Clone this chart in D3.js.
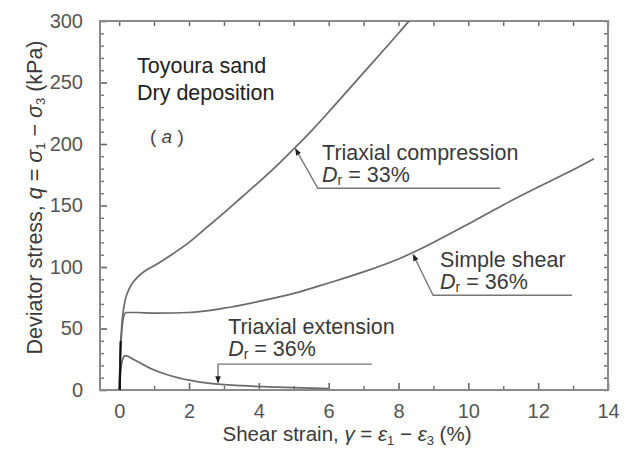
<!DOCTYPE html>
<html>
<head>
<meta charset="utf-8">
<script src="https://cdn.jsdelivr.net/npm/d3@7"></script>
<style>
  html, body { margin: 0; padding: 0; background: #fff; }
  svg { display: block; }
  text { font-family: "Liberation Sans", Arial, sans-serif; }
</style>
</head>
<body>
<svg id="chart" width="637" height="449"></svg>
<script>
// ---- data ----
const xDomain = [-0.55, 14];
const yDomain = [0, 300];
const xTickLabels = [0, 2, 4, 6, 8, 10, 12, 14];
const yTickLabels = [0, 50, 100, 150, 200, 250, 300];

// Triaxial compression, Dr = 33%
const compression = [
  [0, 0], [0.03, 30], [0.08, 55], [0.15, 70], [0.3, 83], [0.5, 91], [0.75, 97], [1, 101],
  [1.5, 110], [2, 120], [2.5, 132], [3, 144], [3.5, 156.5], [4, 169], [4.5, 182],
  [5, 196], [5.5, 210.5], [6, 226], [6.5, 242], [7, 258], [7.5, 274], [8, 290], [8.3, 300]
];
// Simple shear, Dr = 36%
const simpleShear = [
  [0, 0], [0.03, 28], [0.08, 50], [0.13, 60], [0.2, 63], [0.5, 63], [1, 62.5],
  [2, 63], [3, 66.5], [4, 72], [5, 78.5], [6, 87], [7, 96], [8, 106.5], [9, 120],
  [10, 135], [11, 150.5], [12, 165], [13, 179], [13.6, 188]
];
// Triaxial extension, Dr = 36%
const extension = [
  [0, 0], [0.04, 15], [0.1, 25], [0.17, 28], [0.4, 25], [0.9, 17.5], [1.4, 12.2],
  [2, 8], [2.6, 5.4], [3.5, 3.5], [4.5, 2.3], [5.5, 1.5], [6, 1.2]
];

const seriesNames = ["Triaxial compression", "Simple shear", "Triaxial extension"];
const seriesDr = ["33%", "36%", "36%"];
// annotation anchors in data units
const leaderTips   = [[5.05, 196], [8.42, 110], [2.83, 6]];
const leaderElbows = [[5.69, 164], [8.99, 77], [2.83, 21]];
const leaderEnds   = [[10.91, 164], [12.97, 77], [7.24, 21]];
const labelX       = [5.81, 9.19, 3.12];
const labelY1      = [187, 100, 45.5];
const labelY2      = [169.1, 82.1, 27.6];

// ---- layout ----
const svg = d3.select("#chart");
const margin = { left: 100, right: 29, top: 21, bottom: 59 };
const W = 637, H = 449;
const x = d3.scaleLinear().domain(xDomain).range([margin.left, W - margin.right]);
const y = d3.scaleLinear().domain(yDomain).range([H - margin.bottom, margin.top]);

const axisColor = "#8a8a8a";
const lineColor = "#6a6a6a";
const textColor = "#3a3a3a";
const tickTextColor = "#555";
const FONT = "Liberation Sans, Arial, sans-serif";
const LABEL_SIZE = 21.5;

svg.append("defs").append("marker")
  .attr("id", "arrow").attr("viewBox", "0 0 10 10")
  .attr("refX", 9).attr("refY", 5)
  .attr("markerWidth", 7).attr("markerHeight", 7)
  .attr("markerUnits", "userSpaceOnUse")
  .attr("orient", "auto")
  .append("path").attr("d", "M0,1 L10,5 L0,9 Z").attr("fill", "#222");

const g = svg.append("g");
const xMinor = d3.range(0, 15, 1);
const yMinor = d3.range(0, 301, 10);

// bottom
const bottom = g.append("g").attr("transform", `translate(0,${y(0)})`)
  .call(d3.axisBottom(x).tickValues(xTickLabels).tickSize(-7).tickFormat(d3.format("d")).tickPadding(14));
bottom.select(".domain").remove();
bottom.selectAll(".tick line").attr("stroke", "#666").attr("stroke-width", 1.6);
bottom.selectAll(".tick text").attr("fill", tickTextColor).attr("font-size", 20).attr("font-family", FONT);
g.append("g").attr("transform", `translate(0,${y(0)})`)
  .call(d3.axisBottom(x).tickValues(xMinor.filter(d => d % 2)).tickSize(-4).tickFormat(""))
  .call(a => a.select(".domain").remove())
  .selectAll(".tick line").attr("stroke", "#666").attr("stroke-width", 1.4);

// top
g.append("g").attr("transform", `translate(0,${y(300)})`)
  .call(d3.axisTop(x).tickValues(xMinor).tickSize(-5).tickFormat(""))
  .call(a => a.select(".domain").remove())
  .selectAll(".tick line").attr("stroke", "#666").attr("stroke-width", 1.4);

// left
const left = g.append("g").attr("transform", `translate(${x(xDomain[0])},0)`)
  .call(d3.axisLeft(y).tickValues(yTickLabels).tickSize(-7).tickPadding(17).tickFormat(d3.format("d")));
left.select(".domain").remove();
left.selectAll(".tick line").attr("stroke", "#666").attr("stroke-width", 1.6);
left.selectAll(".tick text").attr("fill", tickTextColor).attr("font-size", 20).attr("font-family", FONT);
g.append("g").attr("transform", `translate(${x(xDomain[0])},0)`)
  .call(d3.axisLeft(y).tickValues(yMinor.filter(d => d % 50)).tickSize(-4).tickFormat(""))
  .call(a => a.select(".domain").remove())
  .selectAll(".tick line").attr("stroke", "#777").attr("stroke-width", 1.4);

// right
g.append("g").attr("transform", `translate(${x(xDomain[1])},0)`)
  .call(d3.axisRight(y).tickValues(yMinor).tickSize(-4).tickFormat(""))
  .call(a => a.select(".domain").remove())
  .selectAll(".tick line").attr("stroke", "#666").attr("stroke-width", 1.4);

// frame
g.append("rect")
  .attr("x", x(xDomain[0])).attr("y", y(300))
  .attr("width", x(xDomain[1]) - x(xDomain[0])).attr("height", y(0) - y(300))
  .attr("fill", "none").attr("stroke", axisColor).attr("stroke-width", 2);

// curves
const line = d3.line().x(d => x(d[0])).y(d => y(d[1])).curve(d3.curveMonotoneX);
[compression, simpleShear, extension].forEach(s => {
  svg.append("path").datum(s).attr("d", line)
    .attr("fill", "none").attr("stroke", lineColor).attr("stroke-width", 1.7);
});
svg.append("line").attr("x1", x(0.02)).attr("y1", y(0)).attr("x2", x(0.04)).attr("y2", y(40))
  .attr("stroke", "#111").attr("stroke-width", 2);

// annotations
seriesNames.forEach((name, i) => {
  const pts = [leaderEnds[i], leaderElbows[i], leaderTips[i]];
  svg.append("path")
    .attr("d", d3.line().x(d => x(d[0])).y(d => y(d[1]))(pts))
    .attr("fill", "none").attr("stroke", "#777").attr("stroke-width", 1.4)
    .attr("marker-end", "url(#arrow)");
  svg.append("text").attr("x", x(labelX[i])).attr("y", y(labelY1[i]))
    .attr("font-size", LABEL_SIZE).attr("fill", textColor).text(name);
  const t = svg.append("text").attr("x", x(labelX[i])).attr("y", y(labelY2[i]))
    .attr("font-size", LABEL_SIZE).attr("fill", textColor);
  t.append("tspan").attr("font-style", "italic").text("D");
  t.append("tspan").attr("font-size", 14).attr("dy", 3).text("r");
  t.append("tspan").attr("dy", -3).text(" = " + seriesDr[i]);
});

// panel labels
svg.append("text").attr("x", x(0.51)).attr("y", y(258)).attr("font-size", LABEL_SIZE)
  .attr("fill", "#222").text("Toyoura sand");
svg.append("text").attr("x", x(0.51)).attr("y", y(236)).attr("font-size", LABEL_SIZE)
  .attr("fill", "#222").text("Dry deposition");
const pa = svg.append("text").attr("x", x(0.88)).attr("y", y(201)).attr("font-size", 19)
  .attr("fill", "#444");
pa.append("tspan").text("( ");
pa.append("tspan").attr("font-style", "italic").text("a");
pa.append("tspan").text(" )");

// axis titles
const xt = svg.append("text").attr("x", 347).attr("y", 441)
  .attr("text-anchor", "middle").attr("font-size", 20.5).attr("fill", textColor);
xt.append("tspan").text("Shear strain,  ");
xt.append("tspan").attr("font-style", "italic").text("γ");
xt.append("tspan").text(" = ");
xt.append("tspan").attr("font-style", "italic").text("ε");
xt.append("tspan").attr("font-size", 13).attr("dy", 4).text("1");
xt.append("tspan").attr("dy", -4).text(" − ");
xt.append("tspan").attr("font-style", "italic").text("ε");
xt.append("tspan").attr("font-size", 13).attr("dy", 4).text("3");
xt.append("tspan").attr("dy", -4).text("  (%)");

const yt = svg.append("text")
  .attr("transform", `translate(42,${(32 + 363) / 2}) rotate(-90)`)
  .attr("text-anchor", "middle").attr("font-size", 21.5).attr("fill", textColor);
yt.append("tspan").text("Deviator stress,  ");
yt.append("tspan").attr("font-style", "italic").text("q");
yt.append("tspan").text(" = ");
yt.append("tspan").attr("font-style", "italic").text("σ");
yt.append("tspan").attr("font-size", 13).attr("dy", 3).text("1");
yt.append("tspan").attr("dy", -3).text(" − ");
yt.append("tspan").attr("font-style", "italic").text("σ");
yt.append("tspan").attr("font-size", 13).attr("dy", 3).text("3");
yt.append("tspan").attr("dy", -3).text("  (kPa)");
</script>
</body>
</html>
